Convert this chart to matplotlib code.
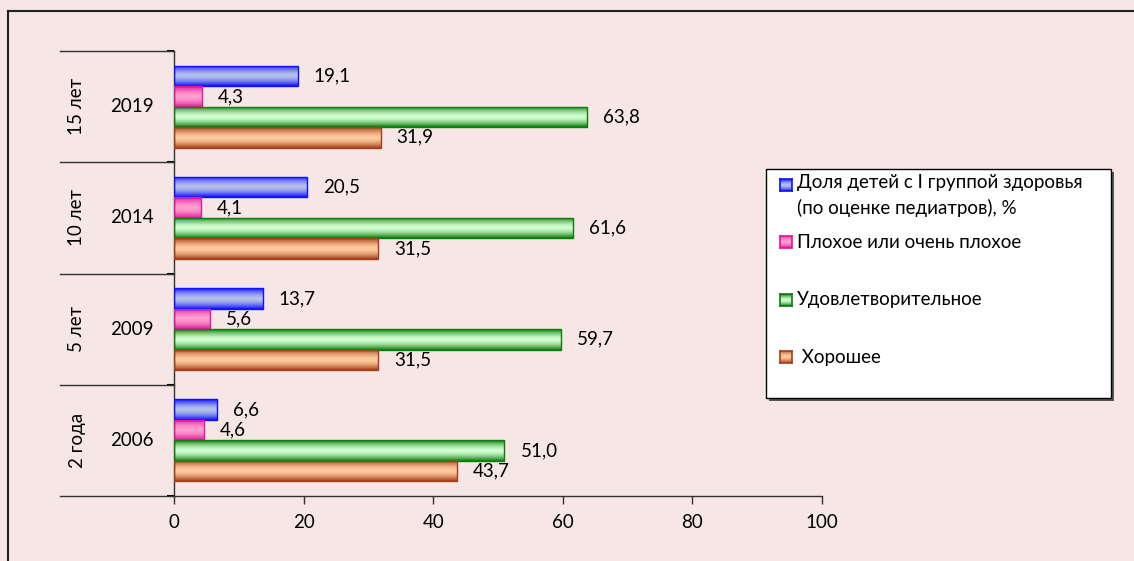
import numpy as np
import matplotlib
matplotlib.use('Agg')
import matplotlib.pyplot as plt
from matplotlib.patches import Rectangle
from matplotlib.lines import Line2D
from matplotlib.colors import to_rgb

plt.rcParams['font.family'] = ['Lato', 'DejaVu Sans']

# Data (top to bottom as shown)
years = ['2019', '2014', '2009', '2006']
ages = ['15 лет', '10 лет', '5 лет', '2 года']
series_names = ['Доля детей с I группой здоровья\n(по оценке педиатров), %',
                'Плохое или очень плохое',
                'Удовлетворительное',
                ' Хорошее']
group1 = [19.1, 20.5, 13.7, 6.6]
poor = [4.3, 4.1, 5.6, 4.6]
satisfactory = [63.8, 61.6, 59.7, 51.0]
good = [31.9, 31.5, 31.5, 43.7]
x_ticks = [0, 20, 40, 60, 80, 100]

series = [group1, poor, satisfactory, good]
# (edge/dark, light centre)
colors = [('#1010ff', '#b4c2ea'),
          ('#e0189c', '#ffa0d0'),
          ('#0a7d0a', '#d2ffd2'),
          ('#a4401a', '#ffcb9e')]

FS = 13.5
W, H = 1134, 561
bg = '#f6e6e6'
fig = plt.figure(figsize=(W / 100, H / 100), dpi=100, facecolor=bg)

def fx(x):
    return x / W

def fy(y):
    return 1 - y / H

ax = fig.add_axes([fx(174), fy(496), fx(822) - fx(174), fy(51) - fy(496)])
ax.set_facecolor('none')

h = 0.184
offsets = [-1.5 * h, -0.5 * h, 0.5 * h, 1.5 * h]
t = np.linspace(0, 1, 64)
prof = np.abs(2 * t - 1) ** 1.6

def gradient(dark, light):
    d = np.array(to_rgb(dark))
    l = np.array(to_rgb(light))
    g = l[None, :] + (d - l)[None, :] * prof[:, None]
    return g[:, None, :]

for vals, off, (dark, light) in zip(series, offsets, colors):
    img = gradient(dark, light)
    for i, v in enumerate(vals):
        yc = i + off
        bar = ax.barh(yc, v, height=h, color='none', edgecolor=dark, linewidth=1.0, zorder=3)[0]
        im = ax.imshow(img, extent=(0, v, yc + h / 2, yc - h / 2), aspect='auto',
                       origin='upper', zorder=2, interpolation='bilinear')
        im.set_clip_path(bar)
        ax.annotate(f'{v:.1f}'.replace('.', ','), (v, yc), xytext=(16, 0),
                    textcoords='offset pixels', va='center', ha='left', fontsize=FS)

ax.set_xlim(0, 100)
ax.set_ylim(3.5, -0.5)
ax.set_xticks(x_ticks)
ax.set_xticklabels([str(x) for x in x_ticks], fontsize=FS)
ax.tick_params(axis='x', length=6, width=1, pad=7, color='#333333')
ax.set_yticks([])
ax.set_yticks(np.arange(-0.5, 4.0, 1.0), minor=True)
ax.tick_params(axis='y', which='minor', length=5, width=1.5, color='black')
ax.spines['top'].set_visible(False)
ax.spines['right'].set_visible(False)
for s in ['left', 'bottom']:
    ax.spines[s].set_color('#333333')
    ax.spines[s].set_linewidth(1)

# category separator lines and labels
for b in np.arange(-0.5, 4.0, 1.0):
    ax.plot([-(174 - 60) / 6.48, 0], [b, b], color='#333333', lw=1, clip_on=False)
for i, (yr, ag) in enumerate(zip(years, ages)):
    ax.text(-(174 - 132) / 6.48, i, yr, ha='center', va='center', fontsize=FS)
    ax.text(-(174 - 77) / 6.48, i, ag, ha='center', va='center', fontsize=FS, rotation=90)

# outer frame (left and top)
fig.add_artist(Line2D([fx(8), fx(8)], [fy(11), 0], color='#222222', lw=1.5))
fig.add_artist(Line2D([fx(8), 1], [fy(11), fy(11)], color='#222222', lw=1.5))

# legend
lx0, ly0, lx1, ly1 = 766, 169, 1111, 398
fig.add_artist(Rectangle((fx(lx0 + 3), fy(ly1 + 3)), fx(lx1 - lx0), fy(ly0) - fy(ly1),
                         transform=fig.transFigure, facecolor='#555555', edgecolor='none'))
fig.add_artist(Rectangle((fx(lx0), fy(ly1)), fx(lx1 - lx0), fy(ly0) - fy(ly1),
                         transform=fig.transFigure, facecolor='white', edgecolor='black', lw=1))
entry_y = [185, 242, 300, 357]
for name, ey, (dark, light) in zip(series_names, entry_y, colors):
    kax = fig.add_axes([fx(780), fy(ey + 6), fx(12), fy(ey - 6) - fy(ey + 6)])
    kax.set_zorder(5)
    kax.imshow(gradient(dark, light), aspect='auto', interpolation='bilinear')
    kax.set_xticks([])
    kax.set_yticks([])
    for sp in kax.spines.values():
        sp.set_color(dark)
        sp.set_linewidth(1.2)
    if '\n' in name:
        fig.text(fx(797), fy(ey - 11), name, ha='left', va='top', fontsize=FS, linespacing=1.5)
    else:
        fig.text(fx(797), fy(ey), name, ha='left', va='center', fontsize=FS)

fig.savefig('out.png', dpi=100, facecolor=bg)
